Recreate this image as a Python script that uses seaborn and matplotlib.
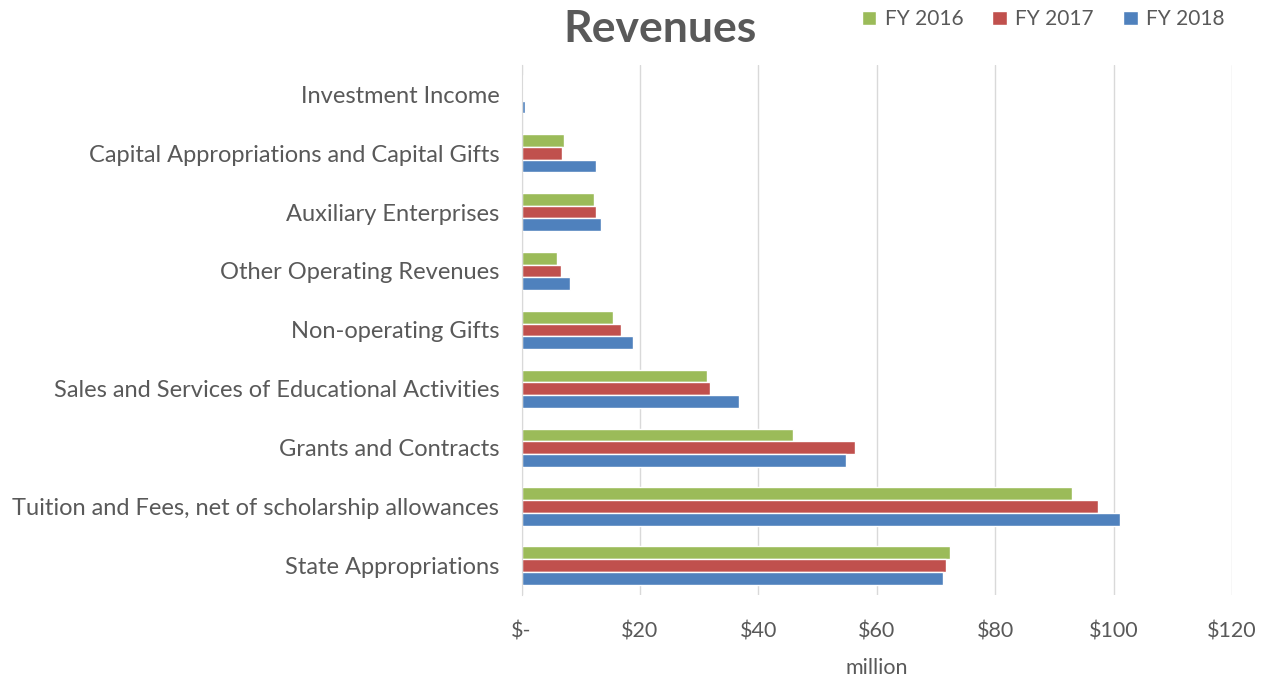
import pandas as pd
import numpy as np
import matplotlib.pyplot as plt
import matplotlib.ticker as mticker
from matplotlib.patches import Patch
import seaborn as sns

# 데이터 (단위: million $)
categories = [
    "Investment Income",
    "Capital Appropriations and Capital Gifts",
    "Auxiliary Enterprises",
    "Other Operating Revenues",
    "Non-operating Gifts",
    "Sales and Services of Educational Activities",
    "Grants and Contracts",
    "Tuition and Fees, net of scholarship allowances",
    "State Appropriations",
]
years = ["FY 2016", "FY 2017", "FY 2018"]
fy2016 = [0.3, 7.2, 12.3, 6.0, 15.4, 31.3, 45.9, 93.0, 72.3]
fy2017 = [0.2, 6.9, 12.6, 6.7, 16.8, 31.8, 56.3, 97.4, 71.7]
fy2018 = [0.5, 12.6, 13.4, 8.2, 18.8, 36.8, 54.8, 101.1, 71.1]
colors = ["#9BBB59", "#C0504D", "#4F81BD"]
xticks = [0, 20, 40, 60, 80, 100, 120]

df = pd.DataFrame({
    "category": categories * 3,
    "year": [y for y in years for _ in categories],
    "value": fy2016 + fy2017 + fy2018,
})

sns.set_style("white")
plt.rcParams["font.family"] = ["Lato", "DejaVu Sans"]
text_color = "#595959"

fig = plt.figure(figsize=(12.69, 6.83), dpi=100)
ax = fig.add_axes([0.411, 0.129, 0.560, 0.776])

sns.barplot(data=df, x="value", y="category", hue="year", order=categories,
            hue_order=years, palette=colors, orient="h", width=0.65,
            ax=ax, legend=False, saturation=1)

ax.set_xlim(0, 120)
ax.set_xticks(xticks)
ax.xaxis.set_major_formatter(mticker.FuncFormatter(lambda v, p: "$-" if v == 0 else f"${v:.0f}"))
ax.grid(axis="x", color="#D9D9D9", linewidth=1)
ax.set_axisbelow(True)
for s in ["top", "right", "bottom"]:
    ax.spines[s].set_visible(False)
ax.spines["left"].set_color("#D9D9D9")
ax.tick_params(axis="both", length=0, colors=text_color)
ax.tick_params(axis="x", pad=19, labelsize=15.5)
ax.tick_params(axis="y", pad=16, labelsize=17)
ax.set_ylabel("")
ax.set_xlabel("million", color=text_color, fontsize=15.5, labelpad=12)

fig.text(0.52, 0.958, "Revenues", ha="center", va="center", fontsize=32,
         fontweight="bold", color=text_color)

handles = [Patch(facecolor=c, label=y) for c, y in zip(colors, years)]
fig.legend(handles=handles, loc="center", bbox_to_anchor=(0.822, 0.972), ncol=3,
           frameon=False, fontsize=15, handlelength=0.7, handleheight=0.7,
           columnspacing=1.4, handletextpad=0.4, labelcolor=text_color)

fig.savefig("out.png", dpi=100)
